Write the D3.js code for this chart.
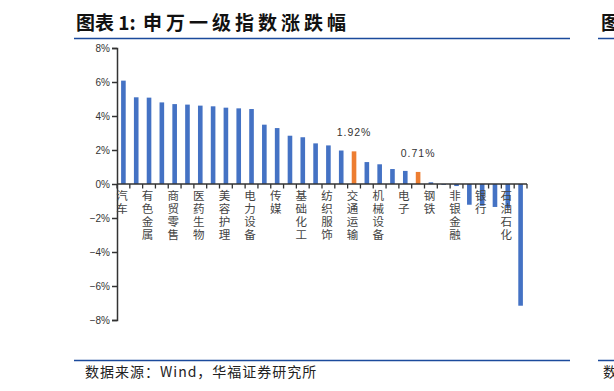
<!DOCTYPE html>
<html><head><meta charset="utf-8">
<script src="https://cdn.jsdelivr.net/npm/d3@7/dist/d3.min.js"></script>
<style>
html,body{margin:0;padding:0;background:#fff;overflow:hidden;}
svg{display:block;}
</style></head>
<body>
<svg id="c" width="614" height="391"></svg>
<script>
// ---- data ----
const labels = ["汽车","","有色金属","","商贸零售","","医药生物","","美容护理","","电力设备","","传媒","","基础化工","","纺织服饰","","交通运输","","机械设备","","电子","","钢铁","","非银金融","","银行","","石油石化",""];
const values = [6.08,5.10,5.08,4.80,4.70,4.67,4.61,4.57,4.49,4.45,4.41,3.49,3.29,2.84,2.75,2.39,2.27,1.97,1.92,1.29,1.16,0.88,0.77,0.71,0.10,-0.05,-0.12,-1.22,-1.28,-1.35,-1.42,-7.16];
const highlightedPositions = [18, 23];
const yTicks = [-8,-6,-4,-2,0,2,4,6,8];
const titleLead = "图表 1:";
const titleMain = "申万一级指数涨跌幅";
const sourceText = "数据来源：Wind，华福证券研究所";

const svg = d3.select("#c");
const idx = d3.range(values.length);
const x = d3.scaleBand().domain(idx).range([117, 527]).paddingInner(0.64).paddingOuter(0.32);
const y = d3.scaleLinear().domain([-8, 8]).range([320, 48]);
const isHi = i => highlightedPositions.includes(i);

// title & frame lines
const t = svg.append("text").attr("y", 30)
  .attr("font-family", "'Noto Sans CJK SC'").attr("font-weight", "bold")
  .attr("font-size", 19).attr("fill", "#111");
t.append("tspan").attr("x", 76).text(titleLead);
t.append("tspan").attr("x", 143).attr("letter-spacing", 4).text(titleMain);
svg.append("line").attr("x1", 74).attr("x2", 570).attr("y1", 38.5).attr("y2", 38.5).attr("stroke", "#1b4a9c").attr("stroke-width", 1.5);
svg.append("line").attr("x1", 598).attr("x2", 614).attr("y1", 38.5).attr("y2", 38.5).attr("stroke", "#1b4a9c").attr("stroke-width", 1.5);
svg.append("text").attr("x", 601).attr("y", 30).text("图表 2")
  .attr("font-family", "'Noto Sans CJK SC'").attr("font-weight", "bold").attr("font-size", 19).attr("fill", "#111");
svg.append("line").attr("x1", 74).attr("x2", 570).attr("y1", 360.5).attr("y2", 360.5).attr("stroke", "#1b4a9c").attr("stroke-width", 1.5);
svg.append("line").attr("x1", 598).attr("x2", 614).attr("y1", 360.5).attr("y2", 360.5).attr("stroke", "#1b4a9c").attr("stroke-width", 1.5);
svg.append("text").attr("x", 85).attr("y", 377).text(sourceText)
  .attr("font-family", "'Noto Sans CJK SC'").attr("font-size", 14).attr("letter-spacing", 1)
  .attr("fill", "#222");
svg.append("text").attr("x", 603).attr("y", 377).text("数据来源")
  .attr("font-family", "'Noto Sans CJK SC'").attr("font-size", 14).attr("fill", "#222");

// bars
const barW = x.bandwidth();
svg.append("g").selectAll("rect").data(idx).join("rect")
  .attr("x", i => x(i))
  .attr("width", barW)
  .attr("y", i => y(Math.max(0, values[i])))
  .attr("height", i => Math.abs(y(values[i]) - y(0)))
  .attr("fill", i => isHi(i) ? "#ED7D31" : "#4472C4");

// y axis
const yAxis = svg.append("g").attr("transform", "translate(117,0)")
  .call(d3.axisLeft(y).tickValues(yTicks).tickSize(5).tickPadding(2).tickFormat(d => d + "%"));
yAxis.select(".domain").attr("stroke", "#333").attr("stroke-width", 1.5);
yAxis.selectAll(".tick line").attr("stroke", "#333").attr("stroke-width", 1.5);
yAxis.selectAll(".tick text").attr("font-family", "'Liberation Sans', Arial, sans-serif")
  .attr("font-size", 10).attr("fill", "#333").text(d => (d < 0 ? "\u2212" + (-d) : d) + "%");

// x axis at zero with boundary ticks
const xg = svg.append("g");
xg.append("line").attr("x1", 117).attr("x2", 527).attr("y1", y(0)).attr("y2", y(0)).attr("stroke", "#333").attr("stroke-width", 1.5);
xg.selectAll("line.t").data(idx.concat([values.length])).join("line").attr("class", "t")
  .attr("x1", i => i < values.length ? x(i) + barW / 2 - x.step() / 2 : 527)
  .attr("x2", i => i < values.length ? x(i) + barW / 2 - x.step() / 2 : 527)
  .attr("y1", y(0)).attr("y2", y(0) + 4.5).attr("stroke", "#333").attr("stroke-width", 1.3);

// category labels (vertical)
svg.append("g").selectAll("text").data(idx.filter(i => labels[i])).join("text")
  .attr("x", i => x(i) + barW / 2 - 1.5).attr("y", 190)
  .attr("style", "writing-mode: vertical-rl; text-orientation: upright;")
  .attr("letter-spacing", 1.5)
  .text(i => labels[i])
  .attr("font-family", "'Noto Sans CJK SC'").attr("font-size", 11.5).attr("fill", "#444");

// value annotations for highlighted bars
idx.filter(isHi).forEach(i => {
  svg.append("text").attr("x", x(i) + barW / 2).attr("y", y(values[i]) - 15)
    .attr("text-anchor", "middle").text(d3.format(".2f")(values[i]) + "%")
    .attr("font-family", "'Liberation Sans', Arial, sans-serif").attr("font-size", 10.5)
    .attr("letter-spacing", 1).attr("fill", "#333");
});
</script>
</body></html>
